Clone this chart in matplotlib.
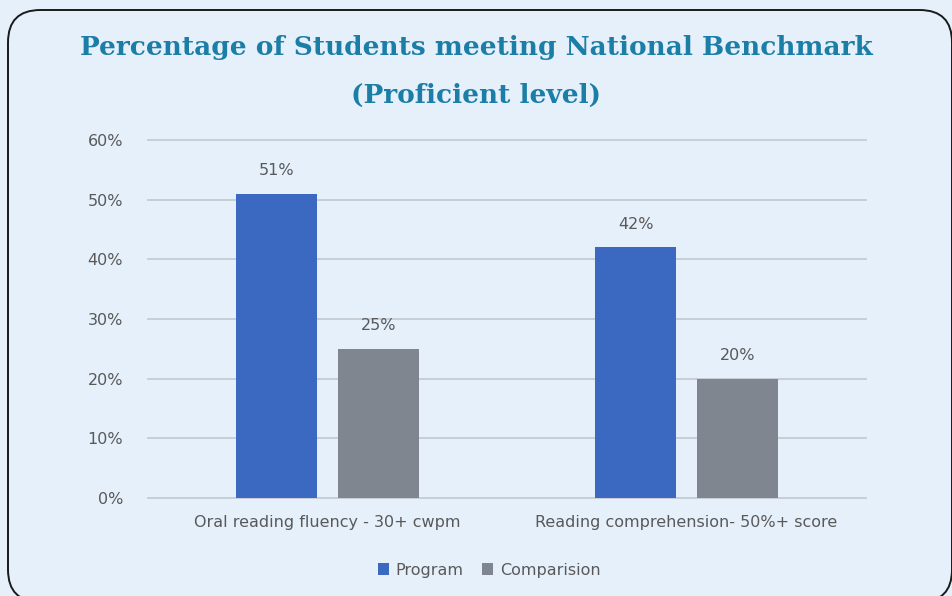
from matplotlib import pyplot as plt
from matplotlib.patches import FancyBboxPatch
from matplotlib.ticker import PercentFormatter
import numpy as np

categories = ['Oral reading fluency - 30+ cwpm', 'Reading comprehension- 50%+ score']
program = [51, 42]
comparison = [25, 20]
series_names = ['Program', 'Comparision']
yticks = [0, 10, 20, 30, 40, 50, 60]

bg = '#e5f0fb'
blue = '#3b69c2'
grey = '#7f868f'
txt = '#595959'

fig = plt.figure(figsize=(9.53, 5.96), dpi=100, facecolor=bg)
W, H = 953, 596

# rounded frame
frame = FancyBboxPatch((8 / W, -6 / H), 944 / W, 592 / H,
                       boxstyle='round,pad=0,rounding_size=0.034',
                       transform=fig.transFigure, facecolor='none',
                       edgecolor='#1a1a1a', linewidth=1.4,
                       mutation_aspect=W / H)
fig.patches.append(frame)

ax = fig.add_axes([148 / W, 1 - 498 / H, 718 / W, 358 / H])
ax.set_facecolor('none')

x = np.arange(len(categories))
w = 0.223
off = 0.142
b1 = ax.bar(x - off, program, w, color=blue, label=series_names[0], zorder=3)
b2 = ax.bar(x + off, comparison, w, color=grey, label=series_names[1], zorder=3)

for bars in (b1, b2):
    for r in bars:
        ax.text(r.get_x() + r.get_width() / 2, r.get_height() + 2.6,
                f'{r.get_height():.0f}%', ha='center', va='bottom',
                fontsize=11.5, color=txt)

ax.set_xlim(-0.5, 1.5)
ax.set_ylim(0, 60)
ax.set_yticks(yticks)
ax.yaxis.set_major_formatter(PercentFormatter(decimals=0))
ax.set_xticks(x)
ax.set_xticklabels(categories)
ax.tick_params(axis='both', length=0, labelsize=11.5, labelcolor=txt)
ax.tick_params(axis='y', pad=18)
ax.tick_params(axis='x', pad=12)
for yv in yticks:
    ax.axhline(yv, color='#c5cbd3', linewidth=1.3, zorder=0, clip_on=False)
for s in ax.spines.values():
    s.set_visible(False)

fig.text(0.5, 1 - 47 / H, 'Percentage of Students meeting National Benchmark',
         ha='center', va='center', fontsize=19, fontweight='bold',
         family='DejaVu Serif', color='#1b7ea6')
fig.text(0.5, 1 - 95 / H, '(Proficient level)',
         ha='center', va='center', fontsize=19, fontweight='bold',
         family='DejaVu Serif', color='#1b7ea6')

fig.legend(loc='center', bbox_to_anchor=(489 / W, 1 - 570 / H), ncol=2,
           frameon=False, fontsize=11.5, labelcolor=txt, handlelength=0.7,
           handleheight=0.7, handletextpad=0.4, columnspacing=1.2)

plt.savefig('out.png', dpi=100, facecolor=bg)
